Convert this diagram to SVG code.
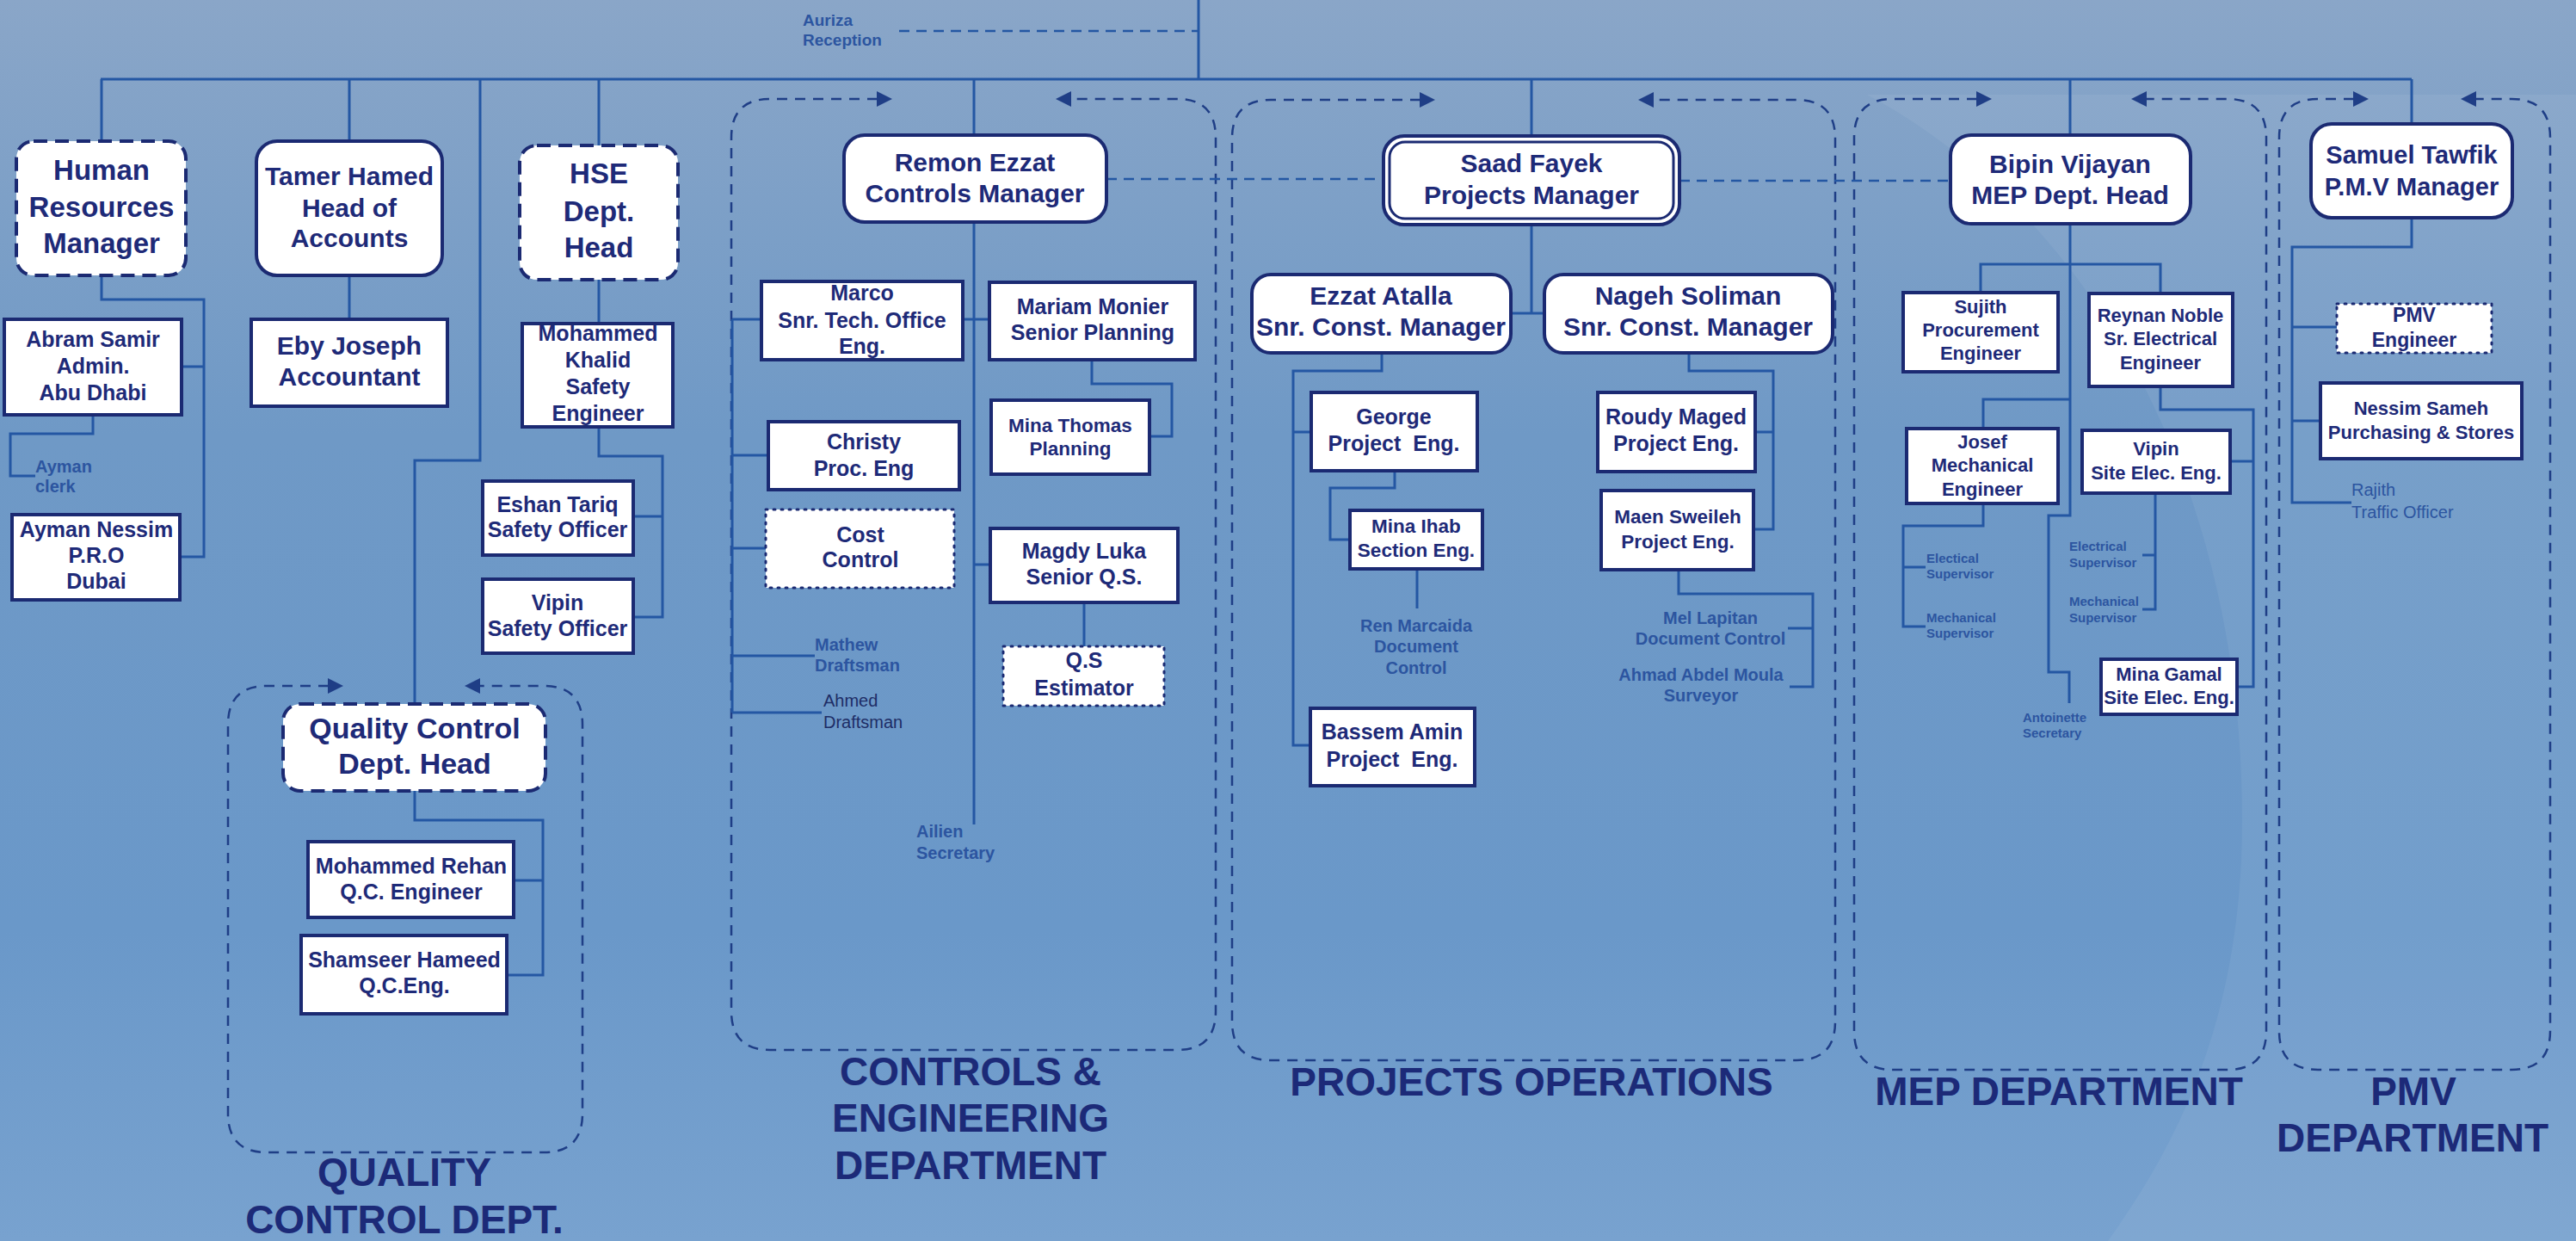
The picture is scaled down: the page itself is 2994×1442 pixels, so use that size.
<svg xmlns="http://www.w3.org/2000/svg" width="2994" height="1442" viewBox="0 0 2994 1442">
<defs>
<linearGradient id="bg" x1="0" y1="0" x2="0" y2="1">
<stop offset="0" stop-color="#8aa6c8"/>
<stop offset="0.35" stop-color="#6f99c6"/>
<stop offset="0.75" stop-color="#6a98c9"/>
<stop offset="1" stop-color="#78a2cf"/>
</linearGradient>
<style>
.box{fill:#fff;stroke:#1b2a72;stroke-width:4}
.dsh{stroke-dasharray:16 9}
.dot{stroke-width:3;stroke-dasharray:2 7;stroke-linecap:round}
.t{font-family:"Liberation Sans",Arial,sans-serif;font-weight:bold;fill:#1e2a78;text-anchor:middle}
.l{font-family:"Liberation Sans",Arial,sans-serif;font-weight:bold;fill:#2c55a0}
.lr{font-family:"Liberation Sans",Arial,sans-serif;font-weight:normal;fill:#2c55a0}
.ln{fill:none;stroke:#2457a3;stroke-width:3}
.dl{fill:none;stroke:#2457a3;stroke-width:2.5;stroke-dasharray:12 8}
.ct{fill:none;stroke:#1f3e86;stroke-width:2.5;stroke-dasharray:12 9}
.ah{fill:#1f3e86}
.dep{font-family:"Liberation Sans",Arial,sans-serif;font-weight:bold;fill:#1c2a78;text-anchor:middle;font-size:46px}
</style>
</defs>
<rect width="2994" height="1442" fill="url(#bg)"/>
<path d="M2170 110 C2450 260 2620 600 2605 1000 C2595 1200 2530 1330 2450 1442 L2994 1442 L2994 110 Z" fill="#ffffff" opacity="0.06"/>

<g id="containers">
<path class="ct" d="M1020 115 H895 Q850 115 850 160 V1175 Q850 1220 895 1220 H1368 Q1413 1220 1413 1175 V160 Q1413 115 1368 115 H1244"/>
<polygon class="ah" points="1037,115 1019,106 1019,124"/><polygon class="ah" points="1227,115 1245,106 1245,124"/>
<path class="ct" d="M382 797 H310 Q265 797 265 842 V1294 Q265 1339 310 1339 H632 Q677 1339 677 1294 V842 Q677 797 632 797 H557"/>
<polygon class="ah" points="399,797 381,788 381,806"/><polygon class="ah" points="540,797 558,788 558,806"/>
<path class="ct" d="M1651 116 H1477 Q1432 116 1432 161 V1187 Q1432 1232 1477 1232 H2088 Q2133 1232 2133 1187 V161 Q2133 116 2088 116 H1921"/>
<polygon class="ah" points="1668,116 1650,107 1650,125"/><polygon class="ah" points="1904,116 1922,107 1922,125"/>
<path class="ct" d="M2298 115 H2200 Q2155 115 2155 160 V1198 Q2155 1243 2200 1243 H2589 Q2634 1243 2634 1198 V160 Q2634 115 2589 115 H2494"/>
<polygon class="ah" points="2315,115 2297,106 2297,124"/><polygon class="ah" points="2477,115 2495,106 2495,124"/>
<path class="ct" d="M2736 115 H2694 Q2649 115 2649 160 V1198 Q2649 1243 2694 1243 H2919 Q2964 1243 2964 1198 V160 Q2964 115 2919 115 H2877"/>
<polygon class="ah" points="2753,115 2735,106 2735,124"/><polygon class="ah" points="2860,115 2878,106 2878,124"/>
</g>

<g id="connectors">
<path class="ln" d="M117 92 H2803 M1393 0 V92"/>
<path class="ln" d="M118 92 V164 M118 320 V348 H237 V647 H209 M237 426 H211"/>
<path class="ln" d="M108 482 V504 H12 V553 H41"/>
<path class="ln" d="M406 92 V164 M406 320 V371"/>
<path class="ln" d="M696 92 V169 M696 325 V376 M696 496 V530 H770 V717 H736 M770 600 H736"/>
<path class="ln" d="M558 92 V535 H482 V818"/>
<path class="ln" d="M482 919 V953 H631 V1133 H589 M631 1023 H597"/>
<path class="ln" d="M1132 92 V157 M1132 258 V958"/>
<path class="ln" d="M1119 371 H1150"/>
<path class="ln" d="M851 371 V828 M851 371 H885 M851 529 H893 M851 637 H890 M851 762 H947 M851 828 H955"/>
<path class="ln" d="M1269 418 V446 H1362 V507 H1336"/>
<path class="ln" d="M1132 656 H1151 M1260 700 V751"/>
<path class="ln" d="M1780 92 V158 M1780 261 V364 M1756 364 H1795"/>
<path class="ln" d="M1606 410 V431 H1503 V866 H1523 M1503 502 H1524"/>
<path class="ln" d="M1621 547 V567 H1546 V627 H1569 M1647 661 V707"/>
<path class="ln" d="M1963 410 V431 H2061 V615 H2038 M2061 502 H2040"/>
<path class="ln" d="M1951 662 V690 H2107 V798 H2080 M2107 730 H2078"/>
<path class="ln" d="M2406 92 V157 M2406 260 V599 H2381 V781 H2405 V817"/>
<path class="ln" d="M2302 340 V307 H2511 V341 M2406 464 H2305 V498"/>
<path class="ln" d="M2511 449 V476 H2619 V798 H2600 M2619 536 H2592"/>
<path class="ln" d="M2305 585 V611 H2212 V728 H2238 M2212 659 H2238"/>
<path class="ln" d="M2505 573 V708 H2490 M2505 645 H2490"/>
<path class="ln" d="M2803 92 V144 M2803 253 V287 H2664 V584 H2733 M2664 380 H2716 M2664 489 H2697"/>
<path class="dl" d="M1045 36 H1393 M1286 208 H1608 M1952 210 H2267"/>
</g>

<g id="hr"><rect class="box dsh" x="19" y="164" width="197" height="156" rx="20"/>
<text class="t" font-size="33"><tspan x="118" y="209">Human</tspan><tspan x="118" y="252">Resources</tspan><tspan x="118" y="294">Manager</tspan></text></g>
<g id="tamer"><rect class="box" x="298" y="164" width="216" height="156" rx="24"/>
<text class="t" font-size="30"><tspan x="406" y="215">Tamer Hamed</tspan><tspan x="406" y="252">Head of</tspan><tspan x="406" y="287">Accounts</tspan></text></g>
<g id="hse"><rect class="box dsh" x="604" y="169" width="184" height="156" rx="20"/>
<text class="t" font-size="33"><tspan x="696" y="213">HSE</tspan><tspan x="696" y="257">Dept.</tspan><tspan x="696" y="299">Head</tspan></text></g>
<g id="abram"><rect class="box" x="5" y="371" width="206" height="111"/>
<text class="t" font-size="25"><tspan x="108" y="403">Abram Samir</tspan><tspan x="108" y="434">Admin.</tspan><tspan x="108" y="465">Abu Dhabi</tspan></text></g>
<g id="ayman-clerk"><text class="l" font-size="20"><tspan x="41" y="549">Ayman</tspan><tspan x="41" y="572">clerk</tspan></text></g>
<g id="ayman"><rect class="box" x="14" y="598" width="195" height="99"/>
<text class="t" font-size="25"><tspan x="112" y="624">Ayman Nessim</tspan><tspan x="112" y="654">P.R.O</tspan><tspan x="112" y="684">Dubai</tspan></text></g>
<g id="eby"><rect class="box" x="292" y="371" width="228" height="101"/>
<text class="t" font-size="30"><tspan x="406" y="412">Eby Joseph</tspan><tspan x="406" y="448">Accountant</tspan></text></g>
<g id="khalid"><rect class="box" x="607" y="376" width="175" height="120"/>
<text class="t" font-size="25"><tspan x="695" y="396">Mohammed</tspan><tspan x="695" y="427">Khalid</tspan><tspan x="695" y="458">Safety</tspan><tspan x="695" y="489">Engineer</tspan></text></g>
<g id="eshan"><rect class="box" x="561" y="559" width="175" height="86"/>
<text class="t" font-size="25"><tspan x="648" y="595">Eshan Tariq</tspan><tspan x="648" y="624">Safety Officer</tspan></text></g>
<g id="vipin-safety"><rect class="box" x="561" y="673" width="175" height="86"/>
<text class="t" font-size="25"><tspan x="648" y="709">Vipin</tspan><tspan x="648" y="739">Safety Officer</tspan></text></g>
<g id="qc-head"><rect class="box dsh" x="329" y="818" width="305" height="101" rx="20"/>
<text class="t" font-size="34"><tspan x="482" y="858">Quality Control</tspan><tspan x="482" y="899">Dept. Head</tspan></text></g>
<g id="rehan"><rect class="box" x="358" y="978" width="239" height="88"/>
<text class="t" font-size="25"><tspan x="478" y="1015">Mohammed Rehan</tspan><tspan x="478" y="1045">Q.C. Engineer</tspan></text></g>
<g id="shamseer"><rect class="box" x="350" y="1087" width="239" height="91"/>
<text class="t" font-size="25"><tspan x="470" y="1124">Shamseer Hameed</tspan><tspan x="470" y="1154">Q.C.Eng.</tspan></text></g>

<g id="auriza"><text class="l" font-size="19"><tspan x="933" y="30">Auriza</tspan><tspan x="933" y="53">Reception</tspan></text></g>
<g id="remon"><rect class="box" x="981" y="157" width="305" height="101" rx="24"/>
<text class="t" font-size="30"><tspan x="1133" y="199">Remon Ezzat</tspan><tspan x="1133" y="235">Controls Manager</tspan></text></g>
<g id="marco"><rect class="box" x="885" y="327" width="234" height="91"/>
<text class="t" font-size="25"><tspan x="1002" y="349">Marco</tspan><tspan x="1002" y="381">Snr. Tech. Office</tspan><tspan x="1002" y="411">Eng.</tspan></text></g>
<g id="mariam"><rect class="box" x="1150" y="328" width="239" height="90"/>
<text class="t" font-size="25"><tspan x="1270" y="365">Mariam Monier</tspan><tspan x="1270" y="395">Senior Planning</tspan></text></g>
<g id="mina-thomas"><rect class="box" x="1152" y="465" width="184" height="86"/>
<text class="t" font-size="22.5"><tspan x="1244" y="502">Mina Thomas</tspan><tspan x="1244" y="529">Planning</tspan></text></g>
<g id="christy"><rect class="box" x="893" y="490" width="222" height="79"/>
<text class="t" font-size="25"><tspan x="1004" y="522">Christy</tspan><tspan x="1004" y="553">Proc. Eng</tspan></text></g>
<g id="cost"><rect class="box dot" x="890" y="592" width="219" height="91"/>
<text class="t" font-size="25"><tspan x="1000" y="630">Cost</tspan><tspan x="1000" y="659">Control</tspan></text></g>
<g id="magdy"><rect class="box" x="1151" y="614" width="218" height="86"/>
<text class="t" font-size="25"><tspan x="1260" y="649">Magdy Luka</tspan><tspan x="1260" y="679">Senior Q.S.</tspan></text></g>
<g id="qs"><rect class="box dot" x="1166" y="751" width="187" height="69"/>
<text class="t" font-size="25"><tspan x="1260" y="776">Q.S</tspan><tspan x="1260" y="808">Estimator</tspan></text></g>
<g id="mathew"><text class="l" font-size="20"><tspan x="947" y="756">Mathew</tspan><tspan x="947" y="780">Draftsman</tspan></text></g>
<g id="ahmed"><text class="lr" font-size="20" style="fill:#1e2d66"><tspan x="957" y="821">Ahmed</tspan><tspan x="957" y="846">Draftsman</tspan></text></g>
<g id="ailien"><text class="l" font-size="20"><tspan x="1065" y="973">Ailien</tspan><tspan x="1065" y="998">Secretary</tspan></text></g>

<g id="saad"><rect class="box" x="1608" y="158" width="344" height="103" rx="24" stroke-width="3"/>
<rect x="1615" y="165" width="330" height="89" rx="18" fill="none" stroke="#1b2a72" stroke-width="3"/>
<text class="t" font-size="30"><tspan x="1780" y="200">Saad Fayek</tspan><tspan x="1780" y="237">Projects Manager</tspan></text></g>
<g id="ezzat"><rect class="box" x="1455" y="319" width="301" height="91" rx="22"/>
<text class="t" font-size="30"><tspan x="1605" y="354">Ezzat Atalla</tspan><tspan x="1605" y="390">Snr. Const. Manager</tspan></text></g>
<g id="nageh"><rect class="box" x="1795" y="319" width="335" height="91" rx="22"/>
<text class="t" font-size="30"><tspan x="1962" y="354">Nageh Soliman</tspan><tspan x="1962" y="390">Snr. Const. Manager</tspan></text></g>
<g id="george"><rect class="box" x="1524" y="456" width="193" height="91"/>
<text class="t" font-size="25" xml:space="preserve"><tspan x="1620" y="493">George</tspan><tspan x="1620" y="524">Project  Eng.</tspan></text></g>
<g id="mina-ihab"><rect class="box" x="1569" y="593" width="154" height="68"/>
<text class="t" font-size="22.5"><tspan x="1646" y="619">Mina Ihab</tspan><tspan x="1646" y="647">Section Eng.</tspan></text></g>
<g id="ren"><text class="l" font-size="20" text-anchor="middle"><tspan x="1646" y="734">Ren Marcaida</tspan><tspan x="1646" y="758">Document</tspan><tspan x="1646" y="783">Control</tspan></text></g>
<g id="bassem"><rect class="box" x="1523" y="823" width="191" height="90"/>
<text class="t" font-size="25" xml:space="preserve"><tspan x="1618" y="859">Bassem Amin</tspan><tspan x="1618" y="891">Project  Eng.</tspan></text></g>
<g id="roudy"><rect class="box" x="1857" y="456" width="183" height="92"/>
<text class="t" font-size="25"><tspan x="1948" y="493">Roudy Maged</tspan><tspan x="1948" y="524">Project Eng.</tspan></text></g>
<g id="maen"><rect class="box" x="1861" y="570" width="177" height="92"/>
<text class="t" font-size="22.5"><tspan x="1950" y="608">Maen Sweileh</tspan><tspan x="1950" y="637">Project Eng.</tspan></text></g>
<g id="mel"><text class="l" font-size="20" text-anchor="middle"><tspan x="1988" y="725">Mel Lapitan</tspan><tspan x="1988" y="749">Document Control</tspan></text></g>
<g id="ahmad"><text class="l" font-size="20" text-anchor="middle"><tspan x="1977" y="791">Ahmad Abdel Moula</tspan><tspan x="1977" y="815">Surveyor</tspan></text></g>

<g id="bipin"><rect class="box" x="2267" y="157" width="279" height="103" rx="24"/>
<text class="t" font-size="30"><tspan x="2406" y="201">Bipin Vijayan</tspan><tspan x="2406" y="237">MEP Dept. Head</tspan></text></g>
<g id="sujith"><rect class="box" x="2212" y="340" width="180" height="92"/>
<text class="t" font-size="22"><tspan x="2302" y="364">Sujith</tspan><tspan x="2302" y="391">Procurement</tspan><tspan x="2302" y="418">Engineer</tspan></text></g>
<g id="reynan"><rect class="box" x="2428" y="341" width="167" height="108"/>
<text class="t" font-size="22"><tspan x="2511" y="374">Reynan Noble</tspan><tspan x="2511" y="401">Sr. Electrical</tspan><tspan x="2511" y="429">Engineer</tspan></text></g>
<g id="josef"><rect class="box" x="2216" y="498" width="176" height="87"/>
<text class="t" font-size="22"><tspan x="2304" y="521">Josef</tspan><tspan x="2304" y="548">Mechanical</tspan><tspan x="2304" y="576">Engineer</tspan></text></g>
<g id="vipin-site"><rect class="box" x="2420" y="500" width="172" height="73"/>
<text class="t" font-size="22"><tspan x="2506" y="529">Vipin</tspan><tspan x="2506" y="557">Site Elec. Eng.</tspan></text></g>
<g id="mina-gamal"><rect class="box" x="2442" y="766" width="158" height="64"/>
<text class="t" font-size="22"><tspan x="2521" y="791">Mina Gamal</tspan><tspan x="2521" y="818">Site Elec. Eng.</tspan></text></g>
<g id="elec-sup-1"><text class="l" font-size="15"><tspan x="2239" y="654">Electical</tspan><tspan x="2239" y="672">Supervisor</tspan></text></g>
<g id="mech-sup-1"><text class="l" font-size="15"><tspan x="2239" y="723">Mechanical</tspan><tspan x="2239" y="741">Supervisor</tspan></text></g>
<g id="elec-sup-2"><text class="l" font-size="15"><tspan x="2405" y="640">Electrical</tspan><tspan x="2405" y="659">Supervisor</tspan></text></g>
<g id="mech-sup-2"><text class="l" font-size="15"><tspan x="2405" y="704">Mechanical</tspan><tspan x="2405" y="723">Supervisor</tspan></text></g>
<g id="antoinette"><text class="l" font-size="15"><tspan x="2351" y="839">Antoinette</tspan><tspan x="2351" y="857">Secretary</tspan></text></g>

<g id="samuel"><rect class="box" x="2686" y="144" width="234" height="109" rx="24"/>
<text class="t" font-size="29"><tspan x="2803" y="190">Samuel Tawfik</tspan><tspan x="2803" y="227">P.M.V Manager</tspan></text></g>
<g id="pmv-eng"><rect class="box dot" x="2716" y="353" width="180" height="57"/>
<text class="t" font-size="23"><tspan x="2806" y="374">PMV</tspan><tspan x="2806" y="403">Engineer</tspan></text></g>
<g id="nessim"><rect class="box" x="2697" y="445" width="234" height="88"/>
<text class="t" font-size="22"><tspan x="2814" y="482">Nessim Sameh</tspan><tspan x="2814" y="510">Purchasing &amp; Stores</tspan></text></g>
<g id="rajith"><text class="lr" font-size="20"><tspan x="2733" y="576">Rajith</tspan><tspan x="2733" y="602">Traffic Officer</tspan></text></g>

<g id="dept-labels">
<text class="dep"><tspan x="470" y="1378">QUALITY</tspan><tspan x="470" y="1433">CONTROL DEPT.</tspan></text>
<text class="dep"><tspan x="1128" y="1261">CONTROLS &amp;</tspan><tspan x="1128" y="1315">ENGINEERING</tspan><tspan x="1128" y="1370">DEPARTMENT</tspan></text>
<text class="dep"><tspan x="1780" y="1273">PROJECTS OPERATIONS</tspan></text>
<text class="dep"><tspan x="2393" y="1284">MEP DEPARTMENT</tspan></text>
<text class="dep"><tspan x="2805" y="1284">PMV</tspan><tspan x="2804" y="1338">DEPARTMENT</tspan></text>
</g>
</svg>
